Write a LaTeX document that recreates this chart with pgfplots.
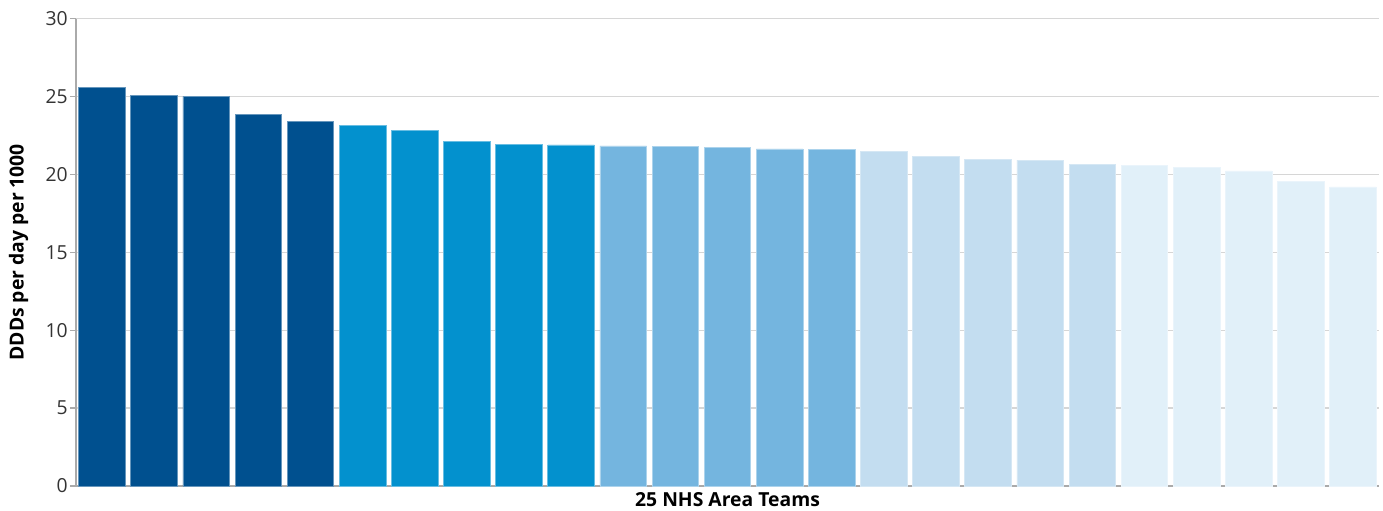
\documentclass[border=0pt]{standalone}
\usepackage{fontspec}
\setmainfont{Open Sans}
\usepackage{pgfplots}
\pgfplotsset{compat=1.18}
\definecolor{c1}{HTML}{00508F}
\definecolor{c2}{HTML}{0391CE}
\definecolor{c3}{HTML}{74B5DF}
\definecolor{c4}{HTML}{C3DDF0}
\definecolor{c5}{HTML}{E1F0F9}
\definecolor{gridgray}{HTML}{D6D6D6}
\definecolor{axisgray}{HTML}{AAAAAA}
\definecolor{tickgray}{HTML}{333333}
\begin{document}
\begin{tikzpicture}
\begin{axis}[
  at={(0pt,0pt)}, anchor=south west,
  scale only axis, width=977.25pt, height=350.6pt,
  xmin=-0.5, xmax=24.5, ymin=0, ymax=30,
  ytick={0,5,...,30}, xtick=\empty,
  ymajorgrids, grid style={color=gridgray, line width=0.9pt},
  axis x line*=bottom, axis y line*=left,
  axis line style={color=axisgray, line width=1.1pt},
  y tick style={color=axisgray, line width=0.9pt},
  tick align=outside, major tick length=4.5pt,
  yticklabel style={font=\fontsize{14.5}{16}\selectfont, text=tickgray, inner sep=0pt, xshift=-1.5pt},
  /pgf/number format/assume math mode=true,
  ylabel={DDDs per day per 1000},
  ylabel style={font=\fontsize{14.5}{16}\selectfont\bfseries, text=black, at={(axis description cs:0,0.5)}, anchor=center, rotate=0, yshift=43.1pt},
  xlabel={25 NHS Area Teams},
  xlabel style={font=\fontsize{14.5}{16}\selectfont\bfseries, text=black, at={(axis description cs:0.5,0)}, anchor=center, yshift=-10.5pt},
  ybar, bar width=35pt, bar shift=0pt,
]
\addplot[fill=c1, draw=c1!60!white, line width=0.6pt] coordinates {(0,25.56) (1,25.08) (2,25.01) (3,23.86) (4,23.38)};
\addplot[fill=c2, draw=c2!60!white, line width=0.6pt] coordinates {(5,23.11) (6,22.79) (7,22.10) (8,21.93) (9,21.89)};
\addplot[fill=c3, draw=c3!60!white, line width=0.6pt] coordinates {(10,21.82) (11,21.78) (12,21.71) (13,21.63) (14,21.59)};
\addplot[fill=c4, draw=c4!70!white, line width=0.6pt] coordinates {(15,21.49) (16,21.16) (17,20.97) (18,20.91) (19,20.65)};
\addplot[fill=c5, draw=c5!70!white, line width=0.6pt] coordinates {(20,20.58) (21,20.45) (22,20.22) (23,19.56) (24,19.19)};
\end{axis}
\pgfresetboundingbox
\path (-57pt,-18pt) rectangle (980.25pt,364.5pt);
\end{tikzpicture}
\end{document}
